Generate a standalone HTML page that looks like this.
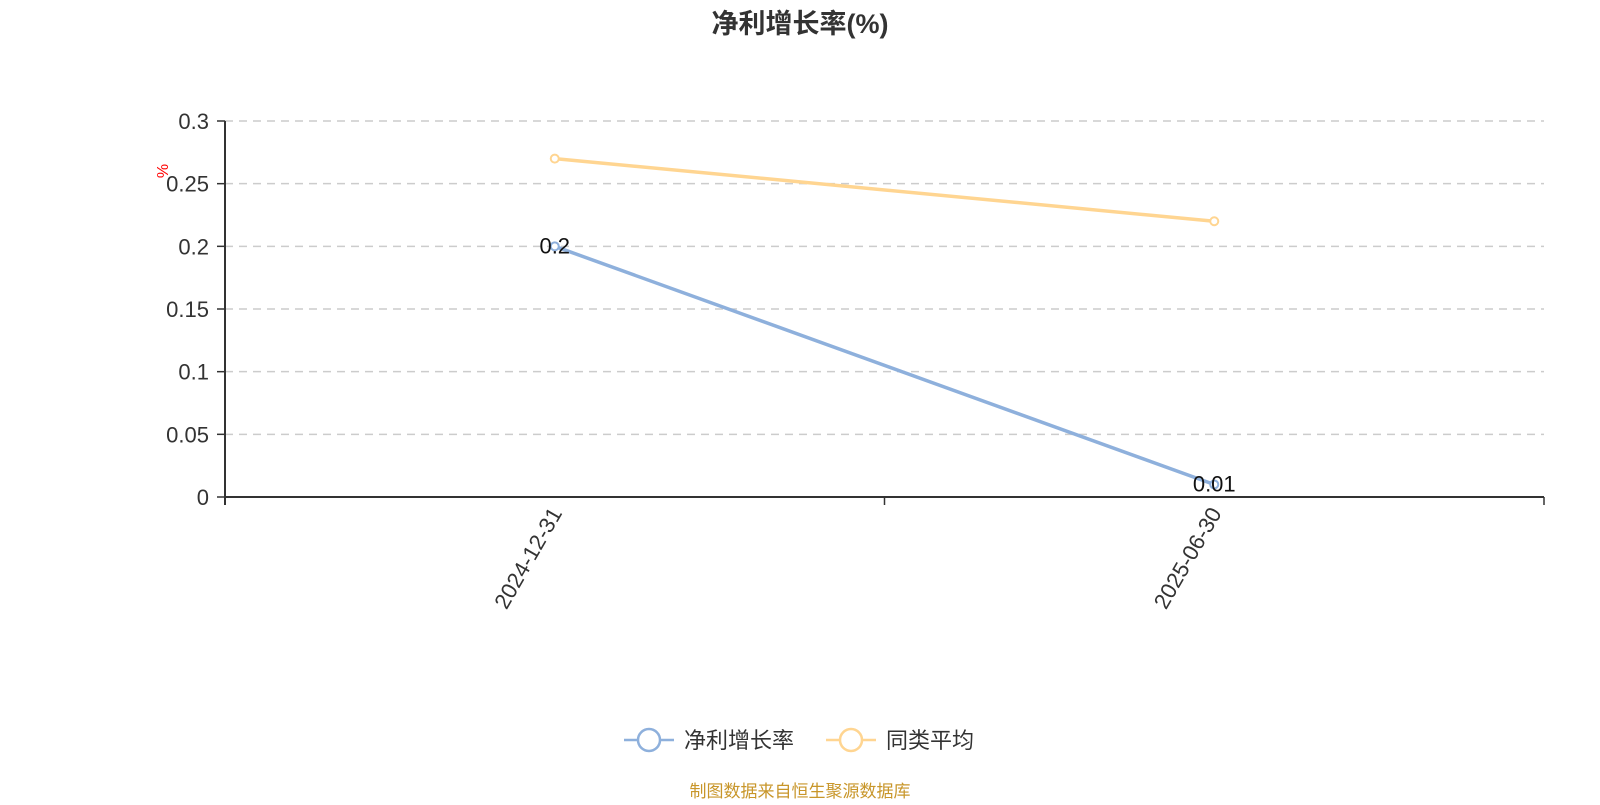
<!DOCTYPE html>
<html><head><meta charset="utf-8"><style>
body{margin:0;background:#fff;width:1600px;height:800px;overflow:hidden;font-family:"Liberation Sans","Noto Sans CJK SC",sans-serif}
</style></head><body>
<svg id="c" width="1600" height="800" font-family="Liberation Sans, Noto Sans CJK SC, sans-serif"></svg>
<script>
const categories=["2024-12-31","2025-06-30"];
const netGrowth=[0.2,0.01];
const peerAvg=[0.27,0.22];
const yTicks=[0,0.05,0.1,0.15,0.2,0.25,0.3];
const yTickLabels=["0","0.05","0.1","0.15","0.2","0.25","0.3"];
const L=225,R=1544,T=121,B=497,yMax=0.3;
const svg=document.getElementById('c');const NS="http://www.w3.org/2000/svg";
function el(t,a,txt){const e=document.createElementNS(NS,t);for(const k in a)e.setAttribute(k,a[k]);if(txt!=null)e.textContent=txt;svg.appendChild(e);return e;}
const xs=i=>L+(R-L)*(i+0.5)/categories.length;
const ys=v=>B-(B-T)*v/yMax;
let e=el('text',{x:800,y:33,'text-anchor':'middle','font-size':27,'font-weight':'bold',fill:'#333'},'净利增长率(%)');

yTicks.forEach((v,i)=>{
 if(v>0){e=el('line',{x1:L,x2:R,y1:ys(v),y2:ys(v),stroke:'#ccc','stroke-dasharray':'8,6','stroke-width':1.5});
 }
 e=el('line',{x1:L-8,x2:L,y1:ys(v),y2:ys(v),stroke:'#333','stroke-width':1.5});
 
 e=el('text',{x:L-16,y:ys(v)+8,'text-anchor':'end','font-size':22,fill:'#333'},yTickLabels[i]);
 
});
e=el('text',{x:0,y:0,'font-size':16,fill:'red',transform:'translate(168,171) rotate(-90)','text-anchor':'middle'},'%');

e=el('line',{x1:L,x2:L,y1:T,y2:B+8,stroke:'#333','stroke-width':2});

e=el('line',{x1:L,x2:R,y1:B,y2:B,stroke:'#333','stroke-width':2});

for(let i=0;i<=categories.length;i++){const x=L+(R-L)*i/categories.length;
 e=el('line',{x1:x,x2:x,y1:B,y2:B+8,stroke:'#333','stroke-width':1.5});
 }
categories.forEach((c,i)=>{
 e=el('text',{x:0,y:0,'font-size':22,fill:'#333','text-anchor':'end',transform:`translate(${xs(i)+8},${B+16}) rotate(-60)`},c);
 
});
function series(data,color,name,labels){
 e=el('polyline',{points:data.map((v,i)=>xs(i)+','+ys(v)).join(' '),fill:'none',stroke:color,'stroke-width':3.5});
 
 data.forEach((v,i)=>{
  e=el('circle',{cx:xs(i),cy:ys(v),r:4,fill:'#fff',stroke:color,'stroke-width':2});
  
  if(labels){e=el('text',{x:xs(i),y:ys(v)+7,'text-anchor':'middle','font-size':22,fill:'#111'},String(v));
  }
 });
}
series(peerAvg,'#ffd591','peer-average',false);
series(netGrowth,'#8eb0dc','net-growth',true);
function legend(x,color,label,name){
 e=el('line',{x1:x,x2:x+50,y1:740,y2:740,stroke:color,'stroke-width':2.5});
 
 e=el('circle',{cx:x+25,cy:740,r:11,fill:'#fff',stroke:color,'stroke-width':2.5});
 
 e=el('text',{x:x+60,y:748,'font-size':22,fill:'#333'},label);
 
}
legend(624,'#8eb0dc','净利增长率','net-growth');
legend(826,'#ffd591','同类平均','peer-average');
e=el('text',{x:800,y:797,'text-anchor':'middle','font-size':17,fill:'#c8962a'},'制图数据来自恒生聚源数据库');

</script>
</body></html>
